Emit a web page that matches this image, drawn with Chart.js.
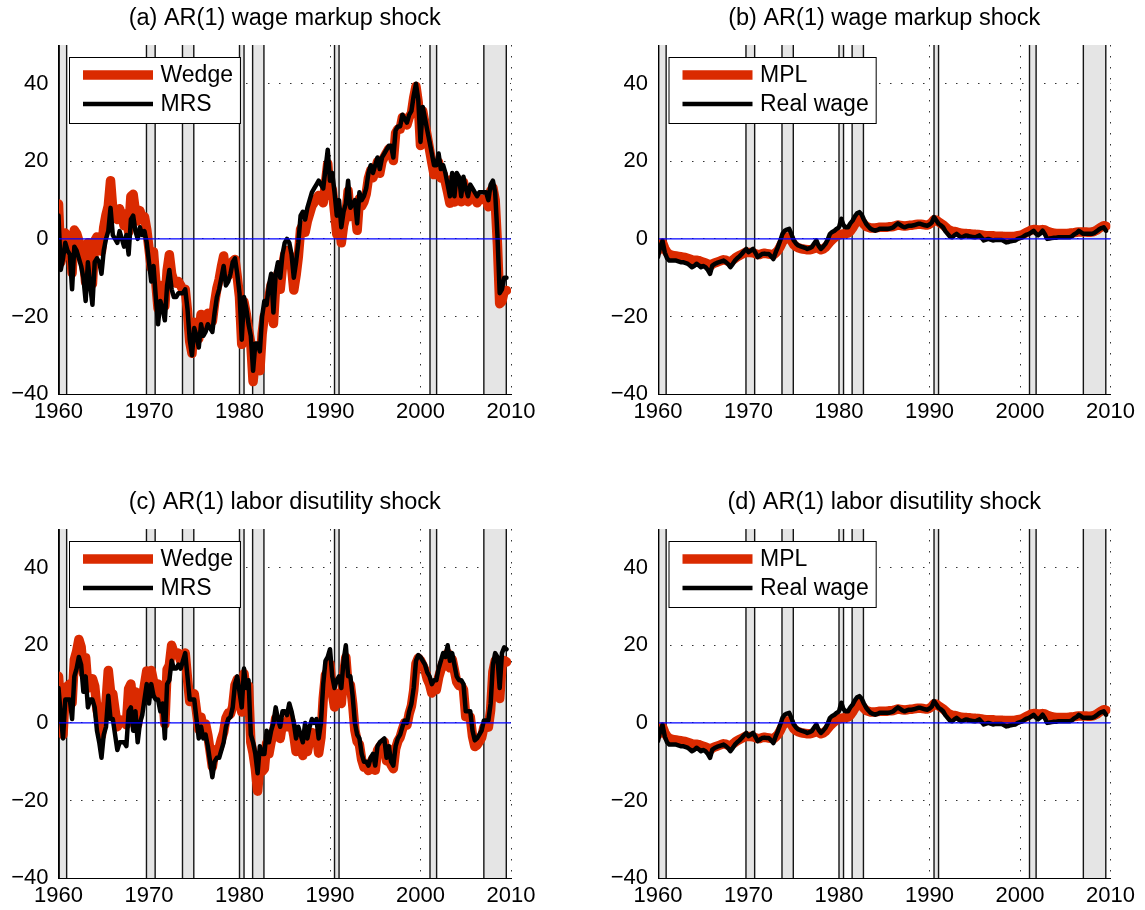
<!DOCTYPE html>
<html>
<head>
<meta charset="utf-8">
<script src="https://cdn.jsdelivr.net/npm/chart.js@4.4.1/dist/chart.umd.min.js"></script>
<style>
  body { margin: 0; background: #fff; width: 1145px; height: 910px; position: relative; overflow: hidden; }
  canvas { position: absolute; }
</style>
</head>
<body>
<canvas id="pa" width="572" height="430" style="left:0;top:0"></canvas>
<canvas id="pb" width="572" height="430" style="left:573px;top:0"></canvas>
<canvas id="pc" width="572" height="430" style="left:0;top:484px"></canvas>
<canvas id="pd" width="572" height="430" style="left:573px;top:484px"></canvas>
<script>
// quarterly dates 1960Q1 .. 2009Q3
const quarters = Array.from({ length: 199 }, (_, i) => 1960 + i / 4);
const xTicks = [1960, 1970, 1980, 1990, 2000, 2010];
const yTicks = [-40, -20, 0, 20, 40];

// shaded recessions (as placed in the picture)
const recStart = [1960.08, 1969.72, 1973.7, 1980.0, 1981.45, 1990.5, 2001.05, 2007.0];
const recEnd = [1960.9, 1970.68, 1974.95, 1980.5, 1982.7, 1991.0, 2001.78, 2009.48];

// (a) wage markup shock: labor wedge and MRS
const wedgeA = [
  9, -6, -4, 1.5, 0.5, 0, -8.8, 2.3, 1.4, -0.5, -2.4, -5.3, -11.2, -1, -6.8, -11.6, -0.5, 0.5, -0.4, -3.2,
  3, 6.2, 8.5, 15, 7.5, 6.2, 5, 7.8, 5.6, 3.4, 6.5, 1.8, 11, 11.5, 7, 4.6, 7.3, 5, 5.7, 2.4,
  -2.5, -7.5, -3.4, -11.2, -18, -12, -14.2, -17.3, -8.2, -4.1, -9, -10.9, -11.4, -11, -12, -13.2, -13, -18.5, -26.5, -29.5,
  -21.5, -23, -25.7, -19.5, -22.4, -21.3, -19.2, -20.2, -21.3, -16.5, -12.8, -10.5, -7.2, -4.4, -9.8, -9.5, -8.2, -5.8, -5.3, -9.8,
  -15, -27.2, -16.3, -19.4, -23.5, -27, -36.8, -30.8, -31.6, -34, -24.5, -19.8, -20.2, -15, -11.8, -21.8, -11.8, -8.9, -13, -7,
  -4, -3, -4.1, -7.1, -13.2, -9.4, -4.6, 2.5, 3.6, 1.7, 4.6, 6.5, 8.5, 9.4, 10.3, 11.2, 10.2, 9.3, 14.4, 19.4,
  11.2, 12.8, 7.1, 1.2, 5.6, -1, 3.4, 5.9, 12.4, 5.8, 7, 8.1, 2.2, 10.4, 8.5, 9.6, 11.6, 15.7, 17.7, 15.8,
  17.8, 19.9, 16.9, 20, 21.1, 22.2, 23.2, 23.2, 20.2, 27.3, 28.3, 28.3, 31.3, 30.4, 29.4, 31.4, 32.4, 36.4, 39.3, 35.2,
  24.1, 32.9, 29.6, 26.3, 23, 19.7, 16.6, 16.6, 19.7, 15.7, 16.6, 14.7, 12, 9.2, 15.4, 9.5, 15.6, 14.6, 9.6, 14.6,
  11.6, 9.6, 12.5, 11.5, 10.4, 9.3, 10.2, 10.2, 10.2, 10.2, 8.3, 12.3, 13.2, 10, -1.3, -16.7, -16.1, -13.4, -13.3
];
const mrsA = [
  6, -8, -5, -1, -3, -4, -13, -2, -3, -5, -7, -10, -16, -6, -12, -17, -6, -5, -6, -9,
  -3, 0, 2, 8, 1, 0, -1, 2, 0, -2, 1, -4, 5, 6, 2, 0, 3, 1, 2, -1,
  -6, -11, -7, -15, -22, -16, -18, -21, -12, -8, -13, -15, -15, -14, -14, -14, -13, -18, -26, -30,
  -23, -25, -28, -22, -25, -24, -22, -23, -24, -19, -15, -13, -10, -7, -12, -11, -9, -6, -5, -9,
  -14, -26, -15, -18, -22, -25, -34, -27, -27, -29, -20, -16, -17, -12, -9, -19, -9, -6, -10, -4,
  -1, 0, -1, -4, -10, -6, -1, 6, 7, 5, 8, 10, 12, 13, 14, 15, 14, 13, 18, 23,
  15, 17, 12, 6, 10, 3, 7, 9, 15, 8, 9, 10, 4, 12, 10, 11, 13, 17, 19, 17,
  19, 21, 18, 21, 22, 23, 24, 24, 21, 28, 29, 29, 32, 31, 30, 32, 33, 37, 40, 36,
  25, 34, 31, 28, 25, 22, 19, 19, 22, 18, 19, 17, 14, 11, 17, 11, 17, 16, 11, 16,
  13, 11, 14, 13, 12, 11, 12, 12, 12, 12, 10, 14, 15, 12, 1, -14, -13, -10, -10
];

// (b), (d): marginal product of labor and real wage
const mpl = [
  -3, -2, -1, -2.5, -3.5, -4, -4.2, -4.3, -4.4, -4.5, -4.6, -4.7, -4.8, -5, -5.2, -5.4, -5.5, -5.5, -5.6, -5.8,
  -6, -6.2, -6.5, -7, -6.5, -6.2, -6, -5.8, -5.6, -5.4, -5.5, -5.8, -6, -5.5, -5, -4.6, -4.3, -4, -3.7, -3.4,
  -3.5, -3.5, -3.6, -3.8, -4, -4, -3.8, -3.7, -3.8, -3.9, -4, -4.1, -3.6, -3, -2, -0.8, 0, 0.5, 0.5, -0.5,
  -1.5, -2, -2.3, -2.5, -2.6, -2.7, -2.8, -2.8, -2.7, -2.5, -2.2, -2.5, -2.8, -2.6, -2.2, -1.5, -0.8, -0.2, 0.3, 0.8,
  1, 1.2, 1.3, 1.4, 1.5, 2, 2.8, 3.8, 4.6, 5, 4.5, 3.8, 3.2, 3, 2.8, 2.8, 2.8, 2.9, 3, 3,
  3, 3, 3.1, 3.1, 3.2, 3.4, 3.6, 3.5, 3.4, 3.3, 3.4, 3.5, 3.5, 3.6, 3.7, 3.8, 3.8, 3.7, 3.6, 3.6,
  3.8, 4.2, 4.9, 4.8, 4.4, 4, 3.6, 3.1, 2.6, 2.2, 2, 1.9, 1.8, 1.6, 1.5, 1.4, 1.4, 1.3, 1.3, 1.2,
  1.2, 1.1, 1.1, 1, 0.9, 0.8, 0.8, 0.8, 0.8, 0.7, 0.7, 0.7, 0.7, 0.6, 0.6, 0.6, 0.6, 0.6, 0.7, 0.8,
  0.9, 1.1, 1.4, 1.7, 2, 2.3, 2.4, 2.4, 2.3, 2.3, 2.4, 2.3, 2, 1.8, 1.6, 1.5, 1.4, 1.4, 1.4, 1.4,
  1.4, 1.4, 1.5, 1.5, 1.6, 1.7, 1.8, 1.8, 1.8, 1.8, 1.7, 1.7, 1.8, 2, 2.3, 2.7, 3.1, 3.4, 3.3
];
const realWage = [
  -4.7, -2, -0.5, -3.5, -5, -5.6, -5.6, -5.6, -5.6, -5.8, -6, -6, -6.2, -6.4, -6.8, -7.3, -7, -6.4, -6.8, -7.3,
  -7, -7.3, -8, -9, -6.9, -6.5, -6.2, -6, -5.8, -5.6, -6, -6.5, -7.3, -6.5, -5.6, -5, -4.5, -3.9, -3.2, -2.6,
  -3.4, -3, -2.6, -3.5, -4.7, -4.3, -3.9, -3.8, -3.9, -3.9, -4.5, -5.2, -3.5, -2.1, -0.5, 1.3, 2.1, 2.4, 2.6, 1.2,
  -0.4, -1.2, -1.7, -1.9, -2.1, -2.3, -2.6, -2.4, -2.1, -1.2, -0.4, -1.8, -2.6, -2, -1.3, -0.2, 1.3, 1.8, 2.1, 2.6,
  3, 5.2, 3.5, 3, 3, 4, 4.7, 5.8, 6.6, 6.9, 6.3, 5, 3.9, 3.2, 2.6, 2.3, 2.1, 2.3, 2.6, 2.6,
  2.6, 2.6, 2.6, 2.8, 3, 3.5, 4, 3.6, 3.2, 3, 3.2, 3.4, 3.4, 3.5, 3.7, 3.9, 3.9, 3.7, 3.5, 3.4,
  3.7, 4.2, 5.6, 4.8, 3.9, 3.5, 3, 2, 1.3, 0.6, 0.4, 0.9, 1.3, 0.8, 0.4, 0.6, 0.9, 0.8, 0.6, 0.5,
  0.4, 0.6, 0.9, 0.3, -0.4, -0.2, 0, -0.2, -0.4, -0.3, -0.3, -0.3, -0.3, -0.6, -0.9, -0.8, -0.6, -0.5, -0.4, 0,
  0.2, 0.4, 0.8, 1.1, 1.3, 1.7, 2.1, 1.4, 0.9, 1.4, 2.1, 1.2, 0, 0.1, 0.2, 0.3, 0.3, 0.4, 0.4, 0.4,
  0.4, 0.4, 0.4, 0.7, 1.2, 1.5, 2.1, 1.7, 1.3, 1.3, 1.3, 1.3, 1.3, 1.6, 2, 2.5, 2.8, 3, 2.1
];

// (c) labor disutility shock: labor wedge and MRS
const wedgeC = [
  12, 4, -3, 8.5, 9.5, 10, 5.2, 16.3, 18.4, 21.5, 19.6, 12.7, 16.8, 9, 11.2, 11.4, 9.5, 3.5, 0.6, -3.2,
  3, 5.2, 13.5, 8, 7.5, 3.2, -1, 0.8, 0.6, 0.4, -0.5, 8.8, 10, 3.5, 8, -0.4, 4.3, 6, 9.7, 13.4,
  8.5, 13.5, 10.6, 9.8, 10, 7, 8.8, -0.3, 13.8, 14.9, 20, 18.1, 17.6, 18, 16, 16.8, 18, 11.5, 5.5, 6.5,
  7.5, 3, -1.7, 1.5, -1.4, -0.3, -3.2, -7.2, -11.3, -7.5, -6.8, -6.5, -4.2, -2.4, 1.2, 2.5, 2.3, 4.2, 9.7, 11.2,
  7, 2.8, 12.7, 7.6, 9.5, -5, -7.8, -11.8, -17.6, -11, -12.5, -11.8, -5.2, -8, -4.8, -2.8, 1.2, -1.9, -4, 0,
  0, -1, 1.9, -0.1, -3.2, -7.4, -4.6, -6.5, -8.4, -3.3, -7.4, -4.5, -2.5, -3.6, -2.7, -7.8, -3.8, 6.3, 12.4, 13.4,
  15.2, 7.8, 4.1, 6.2, 7.6, 5, 12.4, 16.9, 9.4, 9.8, 5, -1.9, -4.8, -5.6, -9.5, -11.4, -11.4, -12.3, -10.3, -9.2,
  -12.2, -7.1, -6.1, -5.5, -4.9, -9.8, -6.8, -10.8, -11.8, -6.7, -4.7, -3.7, -1.7, 0, -0.6, 2.4, 4.4, 8.4, 15.3, 16.7,
  16.1, 14.9, 13.6, 11.3, 10, 7.7, 8.6, 8.6, 11.7, 13.7, 15.6, 14.7, 18, 14.2, 16.4, 13.5, 10.6, 9.6, 9.6, 8.6,
  1.6, 1.6, 1.5, -3.5, -6.1, -5.7, -4.8, -3.8, -1.2, -1.2, -1.1, 3.3, 13.2, 16, 14.7, 6.3, 14.9, 16.1, 15.7
];
const mrsC = [
  9, 2, -4, 6, 6, 6, 1, 12, 14, 17, 15, 8, 12, 4, 6, 6, 4, -2, -5, -9,
  -3, -1, 7, 1, 1, -3, -7, -5, -5, -5, -6, 3, 4, -2, 3, -5, 0, 2, 6, 10,
  5, 10, 7, 6, 6, 3, 5, -4, 10, 11, 16, 14, 14, 15, 14, 16, 18, 12, 6, 6,
  6, 1, -4, -1, -4, -3, -6, -10, -14, -10, -9, -9, -7, -5, -1, 1, 1.5, 4, 10, 12,
  8, 4, 14, 9, 11, -3, -5, -8, -13, -6, -8, -8, -2, -5, -2, 0, 4, 1, -1, 3,
  3, 2, 5, 3, 0, -4, -1, -3, -5, 0, -4, -1, 1, 0, 1, -4, 0, 10, 16, 17,
  19, 12, 9, 11, 12, 9, 16, 20, 12, 12, 7, 0, -3, -4, -8, -10, -10, -11, -9, -8,
  -11, -6, -5, -4.5, -4, -9, -6, -10, -11, -6, -4, -3, -1, 0.6, 0, 3, 5, 9, 16, 17.5,
  17, 16, 15, 13, 12, 10, 11, 11, 14, 16, 18, 17, 20, 16, 18, 15, 12, 11, 11, 10,
  3, 3, 3, -2, -4.5, -4, -3, -2, 0.6, 0.6, 0.6, 5, 15, 18, 17, 9, 18, 19.5, 19
];

const RED = 'rgb(218,42,0)';
Chart.defaults.font.family = '"Liberation Sans", Arial, sans-serif';
Chart.defaults.color = '#000';

const decor = {
  id: 'decor',
  beforeDatasetsDraw(chart) {
    const { ctx, chartArea: a, scales: { x } } = chart;
    ctx.save();
    recStart.forEach((s, i) => {
      const x0 = x.getPixelForValue(s);
      const x1 = x.getPixelForValue(recEnd[i]);
      ctx.fillStyle = '#e5e5e5';
      ctx.fillRect(x0, a.top, x1 - x0, a.bottom - a.top);
      ctx.strokeStyle = '#151515';
      ctx.lineWidth = 1.4;
      ctx.beginPath();
      ctx.moveTo(x0, a.top); ctx.lineTo(x0, a.bottom);
      ctx.moveTo(x1, a.top); ctx.lineTo(x1, a.bottom);
      ctx.stroke();
    });
    ctx.restore();
  },
  afterDatasetsDraw(chart) {
    const { ctx, chartArea: a, scales: { y } } = chart;
    ctx.save();
    // zero line
    const y0 = y.getPixelForValue(0);
    ctx.strokeStyle = '#0000ff';
    ctx.lineWidth = 1.2;
    ctx.beginPath();
    ctx.moveTo(a.left, y0); ctx.lineTo(a.right, y0);
    ctx.stroke();

    // boxed legend in the upper left corner
    const sets = chart.data.datasets;
    ctx.font = '23px "Liberation Sans", Arial, sans-serif';
    const textW = Math.max(...sets.map(d => ctx.measureText(d.label).width));
    const bx = a.left + 10.5, by = a.top + 12;
    const bw = 91.5 + textW + 7, bh = 66;
    ctx.fillStyle = '#fff';
    ctx.fillRect(bx, by, bw, bh);
    ctx.strokeStyle = '#000';
    ctx.lineWidth = 1;
    ctx.strokeRect(bx + 0.5, by + 0.5, bw, bh);
    sets.forEach((d, i) => {
      const ly = by + 18 + i * 29;
      ctx.strokeStyle = d.borderColor;
      ctx.lineWidth = d.borderWidth;
      ctx.lineCap = 'butt';
      ctx.beginPath();
      ctx.moveTo(bx + 14, ly); ctx.lineTo(bx + 84, ly);
      ctx.stroke();
      ctx.fillStyle = '#000';
      ctx.textBaseline = 'middle';
      ctx.fillText(d.label, bx + 91.5, ly + 1);
    });
    ctx.restore();
  }
};

function makeChart(id, title, redLabel, redData, blackLabel, blackData, yWidth, padRight) {
  new Chart(document.getElementById(id), {
    type: 'line',
    data: {
      datasets: [
        {
          label: redLabel,
          data: quarters.map((t, i) => ({ x: t, y: redData[i] })),
          borderColor: RED, borderWidth: 9.5, order: 2
        },
        {
          label: blackLabel,
          data: quarters.map((t, i) => ({ x: t, y: blackData[i] })),
          borderColor: '#000', borderWidth: 4.5, order: 1
        }
      ]
    },
    options: {
      responsive: false,
      animation: false,
      events: [],
      elements: {
        point: { radius: 0 },
        line: { tension: 0, borderJoinStyle: 'round', borderCapStyle: 'round' }
      },
      layout: { padding: { left: 0, right: padRight, top: 0, bottom: 0 } },
      plugins: {
        legend: { display: false },
        tooltip: { enabled: false },
        title: {
          display: true, text: title, fullSize: false, color: '#000',
          font: { size: 23.5, weight: 'normal' },
          padding: { top: 4.9, bottom: 11.9 }
        }
      },
      scales: {
        x: {
          type: 'linear', min: 1960, max: 2010,
          afterBuildTicks: s => { s.ticks = xTicks.map(v => ({ value: v })); },
          afterFit: s => { s.height = 36; },
          ticks: { autoSkip: false, maxRotation: 0, padding: 5, font: { size: 22 }, callback: v => String(v) },
          grid: { color: '#333', lineWidth: 1, drawTicks: false },
          border: { display: true, color: '#000', width: 1, dash: [1.5, 9.5], z: 1 }
        },
        y: {
          min: -40, max: 50,
          afterBuildTicks: s => { s.ticks = yTicks.map(v => ({ value: v })); },
          afterFit: s => { s.width = yWidth; },
          ticks: { padding: 10, font: { size: 22 }, callback: v => (v < 0 ? '\u2212' + Math.abs(v) : String(v)) },
          grid: { color: '#333', lineWidth: 1, drawTicks: false },
          border: { display: true, color: '#000', width: 1, dash: [1.5, 9.5], z: 1 }
        }
      }
    },
    plugins: [decor]
  });
}

makeChart('pa', '(a) AR(1) wage markup shock', 'Wedge', wedgeA, 'MRS', mrsA, 58.5, 61);
makeChart('pb', '(b) AR(1) wage markup shock', 'MPL', mpl, 'Real wage', realWage, 85, 34.5);
makeChart('pc', '(c) AR(1) labor disutility shock', 'Wedge', wedgeC, 'MRS', mrsC, 58.5, 61);
makeChart('pd', '(d) AR(1) labor disutility shock', 'MPL', mpl, 'Real wage', realWage, 85, 34.5);
</script>
</body>
</html>
